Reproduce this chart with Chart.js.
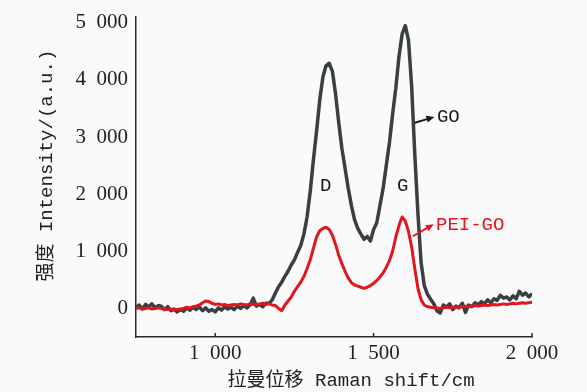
<!DOCTYPE html>
<html>
<head>
<meta charset="utf-8">
<title>Raman</title>
<script src="https://cdn.jsdelivr.net/npm/chart.js@4"></script>
<style>
  body { margin: 0; background: #fafafa; }
  canvas { display: block; }
</style>
</head>
<body>
<canvas id="ramanChart" width="587" height="392"></canvas>
<script>
// Raman shift (cm-1), every 10
const shift = [
  750, 760, 770, 780, 790, 800, 810, 820, 830, 840,
  850, 860, 870, 880, 890, 900, 910, 920, 930, 940,
  950, 960, 970, 980, 990, 1000, 1010, 1020, 1030, 1040,
  1050, 1060, 1070, 1080, 1090, 1100, 1110, 1120, 1130, 1140,
  1150, 1160, 1170, 1180, 1190, 1200, 1210, 1220, 1230, 1240,
  1250, 1260, 1270, 1280, 1290, 1300, 1310, 1320, 1330, 1340,
  1350, 1360, 1370, 1380, 1390, 1400, 1410, 1420, 1430, 1440,
  1450, 1460, 1470, 1480, 1490, 1500, 1510, 1520, 1530, 1540,
  1550, 1560, 1570, 1580, 1590, 1600, 1610, 1620, 1630, 1640,
  1650, 1660, 1670, 1680, 1690, 1700, 1710, 1720, 1730, 1740,
  1750, 1760, 1770, 1780, 1790, 1800, 1810, 1820, 1830, 1840,
  1850, 1860, 1870, 1880, 1890, 1900, 1910, 1920, 1930, 1940,
  1950, 1960, 1970, 1980, 1990, 2000,
];

const goIntensity = [
  20, 60, -10, 70, 30, 80, 10, 50, 40, -20,
  30, -40, -10, -60, -20, -50, 10, -30, 20, -20,
  30, -40, 10, -50, -20, -60, 10, -30, 30, -10,
  20, -20, 40, 0, 50, 10, 60, 180, 40, 70,
  30, 90, 90, 150, 270, 380, 460, 560, 650, 760,
  850, 980, 1100, 1300, 1600, 2050, 2600, 3100, 3650, 4050,
  4250, 4290, 4150, 3750, 3250, 2800, 2450, 2100, 1800, 1550,
  1400, 1300, 1210, 1260, 1180, 1380, 1500, 1800, 2100, 2500,
  2900, 3400, 3850, 4400, 4800, 4950, 4700, 3900, 2700, 1650,
  800, 400, 250, 160, 80, -40, -80, 60, 20, 80,
  -20, 40, 10, 90, -70, 60, 30, 100, 60, 120,
  80, 150, 100, 170, 140, 230, 180, 200, 150, 220,
  170, 300, 230, 270, 200, 260,
];

const peiGoIntensity = [
  0, 10, -10, 0, 10, -10, 0, 10, 0, -10,
  -20, -10, -30, -20, -10, 0, 20, 10, 30, 40,
  60, 100, 130, 120, 90, 70, 80, 60, 70, 50,
  60, 70, 60, 80, 70, 60, 80, 70, 60, 80,
  90, 70, 80, 60, 50, 0, -40, 60, 130, 200,
  300, 380, 460, 560, 700, 850, 1050, 1250, 1360, 1400,
  1420, 1380, 1280, 1120, 930, 780, 650, 530, 450, 410,
  390, 370, 350, 370, 400, 440, 490, 550, 620, 720,
  840, 1000, 1250, 1450, 1600, 1530, 1350, 1080, 700, 350,
  150, 60, 30, 20, 10, 10, 0, 10, 20, 10,
  20, 30, 20, 30, 40, 30, 40, 50, 40, 50,
  60, 50, 60, 70, 60, 70, 80, 70, 80, 90,
  80, 90, 100, 90, 100, 110,
];

const xTickValues = [1000, 1500, 2000];
const yTickValues = [0, 1000, 2000, 3000, 4000, 5000];

const GO_COLOR = "#3a3f41";
const PEI_COLOR = "#e3161f";
const MONO = '"Liberation Mono", "Noto Sans CJK SC", monospace';
const SERIF = '"Liberation Serif", "DejaVu Serif", serif';

// text notes and arrows, in data coordinates
const notes = [
  { text: "D", x: 1349, y: 2140, color: "#1a1a1a", align: "center" },
  { text: "G", x: 1592, y: 2140, color: "#1a1a1a", align: "center" },
  { text: "GO", x: 1700, y: 3350, color: "#1a1a1a", align: "left" },
  { text: "PEI-GO", x: 1697, y: 1456, color: PEI_COLOR, align: "left" },
];
const arrows = [
  { from: [1630, 3250], to: [1692, 3350], color: "#1a1a1a" },
  { from: [1624, 1263], to: [1690, 1474], color: PEI_COLOR },
];

function spaced(v) {
  const s = String(v);
  return s.length > 3 ? s.slice(0, -3) + "\u2007" + s.slice(-3) : s;
}

const ramanExtras = {
  id: "ramanExtras",
  afterDatasetsDraw(chart) {
    const { ctx, chartArea, scales: { x, y } } = chart;
    ctx.save();
    // short inward tick marks on the x axis
    ctx.strokeStyle = "#2a2a2a";
    ctx.lineWidth = 1.5;
    x.ticks.forEach((t) => {
      const px = x.getPixelForValue(t.value);
      ctx.beginPath();
      ctx.moveTo(px, chartArea.bottom);
      ctx.lineTo(px, chartArea.bottom - 4);
      ctx.stroke();
    });

    arrows.forEach((a) => {
      const x0 = x.getPixelForValue(a.from[0]), y0 = y.getPixelForValue(a.from[1]);
      const x1 = x.getPixelForValue(a.to[0]), y1 = y.getPixelForValue(a.to[1]);
      const ang = Math.atan2(y1 - y0, x1 - x0);
      ctx.strokeStyle = a.color;
      ctx.fillStyle = a.color;
      ctx.lineWidth = 2;
      ctx.beginPath();
      ctx.moveTo(x0, y0);
      ctx.lineTo(x1 - 5 * Math.cos(ang), y1 - 5 * Math.sin(ang));
      ctx.stroke();
      ctx.beginPath();
      ctx.moveTo(x1, y1);
      ctx.lineTo(x1 - 8 * Math.cos(ang) + 3.5 * Math.sin(ang), y1 - 8 * Math.sin(ang) - 3.5 * Math.cos(ang));
      ctx.lineTo(x1 - 8 * Math.cos(ang) - 3.5 * Math.sin(ang), y1 - 8 * Math.sin(ang) + 3.5 * Math.cos(ang));
      ctx.closePath();
      ctx.fill();
    });

    ctx.font = "19px " + MONO;
    ctx.textBaseline = "middle";
    notes.forEach((n) => {
      ctx.fillStyle = n.color;
      ctx.textAlign = n.align;
      ctx.fillText(n.text, x.getPixelForValue(n.x), y.getPixelForValue(n.y));
    });
    ctx.restore();
  },
};

const ctx = document.getElementById("ramanChart").getContext("2d");
const ramanChart = new Chart(ctx, {
  type: "line",
  data: {
    labels: shift,
    datasets: [
      {
        label: "PEI-GO",
        data: shift.map((s, i) => ({ x: s, y: peiGoIntensity[i] })),
        borderColor: PEI_COLOR,
        borderWidth: 3,
      },
      {
        label: "GO",
        data: shift.map((s, i) => ({ x: s, y: goIntensity[i] })),
        borderColor: GO_COLOR,
        borderWidth: 3.5,
      },
    ],
  },
  options: {
    responsive: false,
    devicePixelRatio: 1,
    animation: false,
    events: [],
    elements: {
      point: { radius: 0 },
      line: { tension: 0, borderJoinStyle: "round" },
    },
    layout: { padding: { left: 0, top: 17, right: 55, bottom: 0 } },
    plugins: {
      legend: { display: false },
      tooltip: { enabled: false },
    },
    scales: {
      x: {
        type: "linear",
        min: 750,
        max: 2000,
        grid: { display: false, drawTicks: false },
        border: { display: true, color: "#2a2a2a", width: 1.5 },
        afterBuildTicks: (scale) => {
          scale.ticks = xTickValues.map((v) => ({ value: v }));
        },
        ticks: {
          padding: 4,
          maxRotation: 0,
          autoSkip: false,
          color: "#222",
          font: { family: SERIF, size: 21 },
          callback: (v) => spaced(v),
        },
        title: {
          display: true,
          text: "   拉曼位移 Raman shift/cm",
          color: "#222",
          font: { family: MONO, size: 19 },
          padding: { top: 0, bottom: 0 },
        },
        afterFit: (scale) => {
          scale.height = 55;
          scale.paddingLeft = 0;
          scale.paddingRight = 0;
        },
      },
      y: {
        min: -500,
        max: 5100,
        grid: { display: false, drawTicks: false },
        border: { display: true, color: "#2a2a2a", width: 1.5 },
        afterBuildTicks: (scale) => {
          scale.ticks = yTickValues.map((v) => ({ value: v }));
        },
        ticks: {
          padding: 8,
          autoSkip: false,
          color: "#222",
          font: { family: SERIF, size: 21 },
          callback: (v) => spaced(v),
        },
        title: {
          display: true,
          text: "  强度 Intensity/(a.u.)",
          color: "#222",
          font: { family: MONO, size: 19 },
          padding: { top: 36, bottom: 0 },
        },
        afterFit: (scale) => {
          scale.width = 136;
          scale.paddingTop = 0;
          scale.paddingBottom = 0;
        },
      },
    },
  },
  plugins: [ramanExtras],
});
</script>
</body>
</html>
